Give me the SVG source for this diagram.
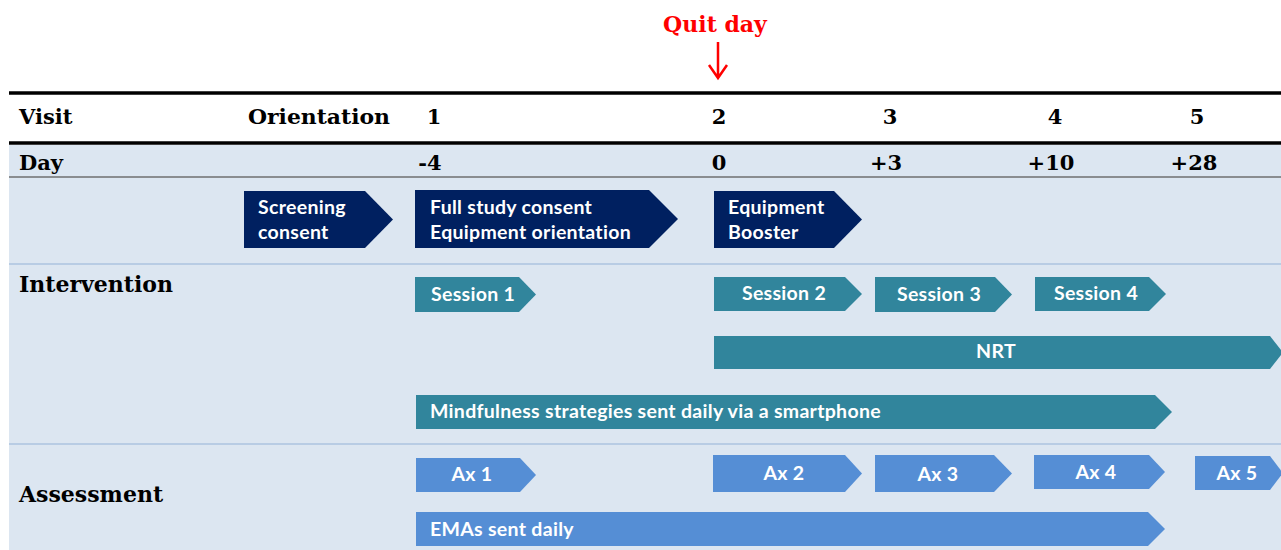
<svg xmlns="http://www.w3.org/2000/svg" width="1281" height="550" viewBox="0 0 1281 550">
<defs>
<style>
.hdr{font-family:"DejaVu Serif","Liberation Serif",serif;font-weight:bold;font-size:21px;fill:#000}
.sec{font-family:"DejaVu Serif","Liberation Serif",serif;font-weight:bold;font-size:22px;fill:#000}
.lbl{font-family:Lato,"Open Sans",sans-serif;font-weight:bold;font-size:19.5px;letter-spacing:0.3px;fill:#fff}
.navy{fill:#002060}
.teal{fill:#31859c}
.blue{fill:#558ed5}
</style>
</defs>
<rect x="0" y="0" width="1281" height="550" fill="#fff"/>
<!-- backgrounds -->
<rect x="9" y="145" width="1272" height="405" fill="#dce6f1"/>
<line x1="9" y1="177" x2="1281" y2="177" stroke="#6f6f6f" stroke-width="1.5"/>
<line x1="9" y1="264" x2="1281" y2="264" stroke="#b8cce4" stroke-width="2"/>
<line x1="9" y1="444" x2="1281" y2="444" stroke="#b8cce4" stroke-width="2"/>
<line x1="9" y1="93" x2="1281" y2="93" stroke="#000" stroke-width="3.5"/>
<line x1="9" y1="143" x2="1281" y2="143" stroke="#000" stroke-width="3.5"/>
<!-- quit day -->
<g id="quitday">
<text x="715" y="32" text-anchor="middle" style="font-family:'DejaVu Serif','Liberation Serif',serif;font-weight:bold;font-size:22px;fill:#ff0000">Quit day</text>
<path d="M718 42 V78 M709 65 L718 78 L727 65" fill="none" stroke="#ff0000" stroke-width="2.5"/>
</g>
<!-- header rows -->
<g id="header">
<text class="hdr" x="19" y="124">Visit</text>
<text class="hdr" x="248" y="124" textLength="142" lengthAdjust="spacingAndGlyphs">Orientation</text>
<text class="hdr" x="434" y="124" text-anchor="middle">1</text>
<text class="hdr" x="719" y="124" text-anchor="middle">2</text>
<text class="hdr" x="890" y="124" text-anchor="middle">3</text>
<text class="hdr" x="1055" y="124" text-anchor="middle">4</text>
<text class="hdr" x="1197" y="124" text-anchor="middle">5</text>
<text class="hdr" x="19" y="170">Day</text>
<text class="hdr" x="430" y="170" text-anchor="middle">-4</text>
<text class="hdr" x="719" y="170" text-anchor="middle">0</text>
<text class="hdr" x="886" y="170" text-anchor="middle">+3</text>
<text class="hdr" x="1051" y="170" text-anchor="middle">+10</text>
<text class="hdr" x="1194" y="170" text-anchor="middle">+28</text>
<text class="sec" x="19" y="292">Intervention</text>
<text class="sec" x="19" y="502">Assessment</text>
</g>
<!-- navy -->
<g id="screening">
<polygon class="navy" points="244,191 365,191 393,219.5 365,248 244,248"/>
<text class="lbl" x="258" y="214">Screening</text>
<text class="lbl" x="258" y="239">consent</text>
</g>
<g id="fullstudy">
<polygon class="navy" points="415,190 649,190 678,219 649,248 415,248"/>
<text class="lbl" x="430" y="214">Full study consent</text>
<text class="lbl" x="430" y="239">Equipment orientation</text>
</g>
<g id="equipment">
<polygon class="navy" points="714,191 834,191 862,219.5 834,248 714,248"/>
<text class="lbl" x="728" y="214">Equipment</text>
<text class="lbl" x="728" y="239">Booster</text>
</g>
<!-- sessions -->
<g id="session1">
<polygon class="teal" points="415,277 519,277 536,294.5 519,312 415,312"/>
<text class="lbl" x="431" y="301">Session 1</text>
</g>
<g id="session2">
<polygon class="teal" points="714,277 845,277 862,294 845,311 714,311"/>
<text class="lbl" x="784" y="300" text-anchor="middle">Session 2</text>
</g>
<g id="session3">
<polygon class="teal" points="875,277 995,277 1012,294.5 995,312 875,312"/>
<text class="lbl" x="939" y="301" text-anchor="middle">Session 3</text>
</g>
<g id="session4">
<polygon class="teal" points="1035,277 1149,277 1166,294 1149,311 1035,311"/>
<text class="lbl" x="1096" y="300" text-anchor="middle">Session 4</text>
</g>
<g id="nrt">
<polygon class="teal" points="714,336 1270,336 1283,352.5 1270,369 714,369"/>
<text class="lbl" x="996" y="358" text-anchor="middle">NRT</text>
</g>
<g id="mindfulness">
<polygon class="teal" points="416,395 1155,395 1172,412 1155,429 416,429"/>
<text class="lbl" x="430" y="418">Mindfulness strategies sent daily via a smartphone</text>
</g>
<!-- assessments -->
<g id="ax1">
<polygon class="blue" points="416,458 520,458 536,475 520,492 416,492"/>
<text class="lbl" x="472" y="481" text-anchor="middle">Ax 1</text>
</g>
<g id="ax2">
<polygon class="blue" points="713,455 845,455 862,473.5 845,492 713,492"/>
<text class="lbl" x="784" y="480" text-anchor="middle">Ax 2</text>
</g>
<g id="ax3">
<polygon class="blue" points="875,455 994,455 1012,473.5 994,492 875,492"/>
<text class="lbl" x="938" y="481" text-anchor="middle">Ax 3</text>
</g>
<g id="ax4">
<polygon class="blue" points="1034,455 1149,455 1165,472 1149,489 1034,489"/>
<text class="lbl" x="1096" y="479" text-anchor="middle">Ax 4</text>
</g>
<g id="ax5">
<polygon class="blue" points="1195,456 1270,456 1283,473 1270,490 1195,490"/>
<text class="lbl" x="1237" y="480" text-anchor="middle">Ax 5</text>
</g>
<g id="emas">
<polygon class="blue" points="416,512 1148,512 1165,529 1148,546 416,546"/>
<text class="lbl" x="430" y="536">EMAs sent daily</text>
</g>
<g id="connectors"></g>
</svg>
